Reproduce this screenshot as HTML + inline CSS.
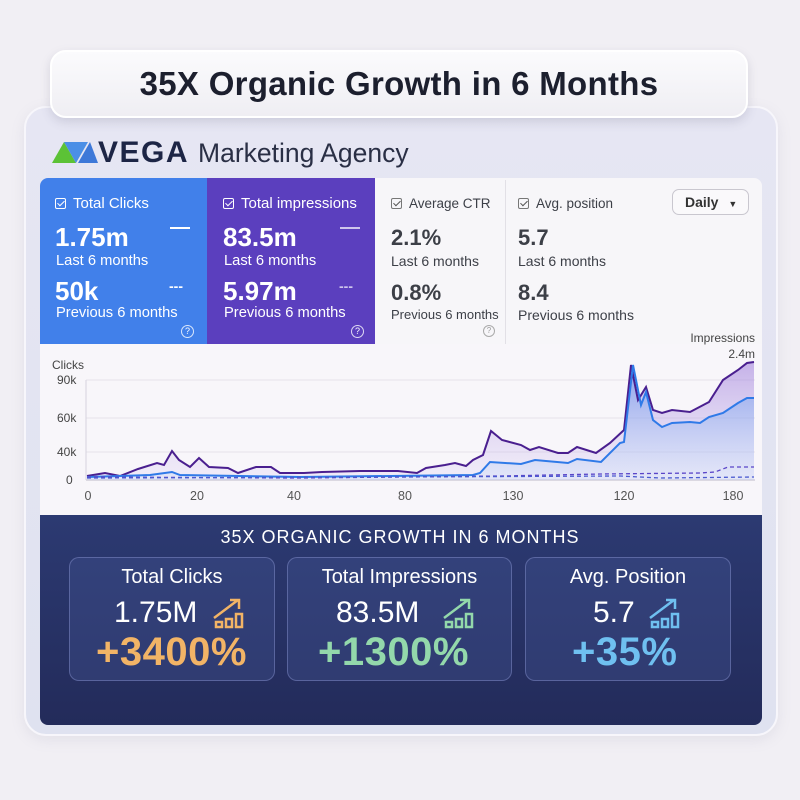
<!DOCTYPE html>
<html><head><meta charset="utf-8"><style>
*{margin:0;padding:0;box-sizing:border-box}
body{width:800px;height:800px;background:#f1eff4;font-family:"Liberation Sans",sans-serif;position:relative;overflow:hidden}
.abs{position:absolute}
.card{left:24px;top:106px;width:754px;height:630px;border-radius:22px;background:linear-gradient(180deg,#e6e6f3,#dfe2f0);border:2px solid #f7f6fb;box-shadow:0 4px 14px rgba(120,120,160,.12)}
.pill{left:50px;top:50px;width:698px;height:68px;border-radius:16px;background:linear-gradient(180deg,#fbfbfd,#efeef3);border:2px solid #fff;box-shadow:0 4px 10px rgba(100,100,130,.2);text-align:center;line-height:64px;font-size:33px;font-weight:bold;color:#1c1f2e;letter-spacing:.3px}
.t{position:absolute;white-space:nowrap}
.w{color:#fff}
.big{font-size:22px;font-weight:bold}
.wb{font-size:26px;font-weight:bold}
.sm{font-size:14px}
.ws{font-size:14.7px}
.chk{display:inline-block;width:11px;height:11px;border:1.5px solid #fff;border-radius:2px;vertical-align:-1px;margin-right:7px;position:relative}
.chk:after{content:"";position:absolute;left:2.5px;top:0px;width:3px;height:6px;border:solid currentColor;border-width:0 1.5px 1.5px 0;transform:rotate(45deg)}
.g{color:#3c3f47}
.g .chk{border-color:#777}
.box{border:1.5px solid rgba(140,150,210,.45);border-radius:10px;background:rgba(70,85,150,.35)}
.pct{font-size:40px;font-weight:bold;letter-spacing:.5px}
</style></head><body>
<div class="abs card"></div>
<div class="abs pill">35X Organic Growth in 6 Months</div>

<svg class="abs" style="left:52px;top:140px" width="46" height="24" viewBox="0 0 46 24">
<polygon points="0,23 12,2 24,23" fill="#5cc236"/>
<polygon points="12,2 36,2 24,23" fill="#4b8fe6"/>
<polygon points="26,23 38,2 46,23" fill="#3d78d8"/>
</svg>
<div class="t" style="left:98px;top:136px;font-size:30px;font-weight:bold;color:#1d2545;letter-spacing:1.5px">VEGA</div>
<div class="t" style="left:198px;top:138px;font-size:26.5px;color:#2a2f45">Marketing Agency</div>

<div class="abs" style="left:40px;top:178px;width:722px;height:166px;background:#f7f6f9;border-radius:8px 8px 0 0"></div>
<div class="abs" style="left:40px;top:178px;width:167px;height:166px;background:#4180ea;border-radius:8px 0 0 0"></div>
<div class="abs" style="left:207px;top:178px;width:168px;height:166px;background:#5b3fbe"></div>
<div class="abs" style="left:505px;top:180px;width:1px;height:164px;background:#e2e0e6"></div>

<div class="t w" style="left:55px;top:195px;font-size:15px"><span class="chk"></span>Total Clicks</div>
<div class="t w wb" style="left:55px;top:222px">1.75m</div>
<div class="t w ws" style="left:56px;top:253px">Last 6 months</div>
<div class="t w wb" style="left:55px;top:276px">50k</div>
<div class="t w ws" style="left:56px;top:305px">Previous 6 months</div>
<div class="abs" style="left:170px;top:227px;width:20px;height:2px;background:#fff"></div>
<div class="t w" style="left:169px;top:278px;font-size:14px;font-weight:bold">---</div>
<div class="abs" style="left:181px;top:325px;width:13px;height:13px;border:1.3px solid rgba(255,255,255,.8);border-radius:50%;font-size:9px;color:#fff;text-align:center;line-height:11px">?</div>

<div class="t w" style="left:223px;top:195px;font-size:15px"><span class="chk"></span>Total impressions</div>
<div class="t w wb" style="left:223px;top:222px">83.5m</div>
<div class="t w ws" style="left:224px;top:253px">Last 6 months</div>
<div class="t w wb" style="left:223px;top:276px">5.97m</div>
<div class="t w ws" style="left:224px;top:305px">Previous 6 months</div>
<div class="abs" style="left:340px;top:227px;width:20px;height:2px;background:rgba(255,255,255,.7)"></div>
<div class="t" style="left:339px;top:278px;font-size:14px;font-weight:bold;color:rgba(255,255,255,.7)">---</div>
<div class="abs" style="left:351px;top:325px;width:13px;height:13px;border:1.3px solid rgba(255,255,255,.8);border-radius:50%;font-size:9px;color:#fff;text-align:center;line-height:11px">?</div>

<div class="t g" style="left:391px;top:196px;font-size:13.5px"><span class="chk" style="color:#555"></span>Average CTR</div>
<div class="t g big" style="left:391px;top:225px">2.1%</div>
<div class="t g sm" style="left:391px;top:253px">Last 6 months</div>
<div class="t g big" style="left:391px;top:280px">0.8%</div>
<div class="t g" style="left:391px;top:307px;font-size:13px">Previous 6 months</div>
<div class="abs" style="left:483px;top:325px;width:12px;height:12px;border:1px solid #aaa;border-radius:50%;font-size:8px;color:#999;text-align:center;line-height:10px">?</div>

<div class="t g" style="left:518px;top:196px;font-size:13.5px"><span class="chk" style="color:#555"></span>Avg. position</div>
<div class="t g big" style="left:518px;top:225px">5.7</div>
<div class="t g sm" style="left:518px;top:253px">Last 6 months</div>
<div class="t g big" style="left:518px;top:280px">8.4</div>
<div class="t g sm" style="left:518px;top:307px">Previous 6 months</div>
<div class="abs" style="left:672px;top:189px;width:77px;height:26px;border:1px solid #c9c7cf;border-radius:7px;background:#faf9fb;font-size:14px;font-weight:bold;color:#333;line-height:24px;padding-left:12px">Daily <span style="font-size:9px;margin-left:6px">▼</span></div>

<div class="abs" style="left:40px;top:344px;width:722px;height:171px;background:#f8f6fa"></div>
<svg class="abs" style="left:0;top:0" width="800" height="800">
<defs>
<linearGradient id="gp" x1="0" y1="0" x2="0" y2="1"><stop offset="0" stop-color="#9b79d9" stop-opacity=".55"/><stop offset="1" stop-color="#c7b6ee" stop-opacity=".15"/></linearGradient>
<linearGradient id="gb" x1="0" y1="0" x2="0" y2="1"><stop offset="0" stop-color="#5a92ee" stop-opacity=".55"/><stop offset="1" stop-color="#bcd3f7" stop-opacity=".25"/></linearGradient>
</defs>
<g stroke="#e6e3ea" stroke-width="1"><line x1="86" y1="380" x2="755" y2="380"/><line x1="86" y1="418" x2="755" y2="418"/><line x1="86" y1="452" x2="755" y2="452"/></g>
<line x1="86" y1="480" x2="755" y2="480" stroke="#c9c6d2" stroke-width="1.2"/>
<line x1="86" y1="380" x2="86" y2="480" stroke="#d6d3de"/>
<path d="M87,476 105,473 120,476 138,469 157,463 164,465 172,451 179,460 190,467 199,458 209,467 228,468 238,473 256,467 271,467 280,473 304,473 322,472 360,471 398,471 417,473 426,468 445,465 455,463 466,466 473,460 483,455 491,431 502,440 521,445 530,450 539,447 558,453 568,453 577,447 596,453 610,443 624,430 631,365 638,400 646,387 653,410 662,413 672,410 690,412 709,402 723,380 738,370 747,363 754,362 754,480 87,480Z" fill="url(#gp)"/>
<path d="M87,477 150,475 172,472 180,475 300,477 473,475 480,473 490,462 521,464 535,460 568,463 577,459 601,462 620,443 624,442 633,365 641,405 646,392 653,420 662,427 672,423 690,422 700,423 709,417 723,413 738,403 747,398 754,398 754,480 87,480Z" fill="url(#gb)"/>
<path d="M87,476 105,473 120,476 138,469 157,463 164,465 172,451 179,460 190,467 199,458 209,467 228,468 238,473 256,467 271,467 280,473 304,473 322,472 360,471 398,471 417,473 426,468 445,465 455,463 466,466 473,460 483,455 491,431 502,440 521,445 530,450 539,447 558,453 568,453 577,447 596,453 610,443 624,430 631,365 638,400 646,387 653,410 662,413 672,410 690,412 709,402 723,380 738,370 747,363 754,362" fill="none" stroke="#4a1f8f" stroke-width="2"/>
<path d="M87,477 150,475 172,472 180,475 300,477 473,475 480,473 490,462 521,464 535,460 568,463 577,459 601,462 620,443 624,442 633,365 641,405 646,392 653,420 662,427 672,423 690,422 700,423 709,417 723,413 738,403 747,398 754,398" fill="none" stroke="#2f7ae8" stroke-width="2"/>
<path d="M87,477 300,478 500,476 600,474 700,473 715,472 728,467 754,467" fill="none" stroke="#5a45c8" stroke-width="1.3" stroke-dasharray="4,3"/>
<path d="M87,478 400,477 620,476 640,477 660,478 754,477" fill="none" stroke="#4a5ad0" stroke-width="1.3" stroke-dasharray="4,3"/>
<g font-family="Liberation Sans" font-size="12" fill="#444">
<text x="52" y="369">Clicks</text>
<text x="57" y="384">90k</text><text x="57" y="422">60k</text><text x="57" y="456">40k</text><text x="66" y="484">0</text>
<text x="755" y="342" text-anchor="end">Impressions</text><text x="755" y="358" text-anchor="end">2.4m</text>
<g text-anchor="middle" font-size="12.5" fill="#555"><text x="88" y="500">0</text><text x="197" y="500">20</text><text x="294" y="500">40</text><text x="405" y="500">80</text><text x="513" y="500">130</text><text x="624" y="500">120</text><text x="733" y="500">180</text></g>
</g>
</svg>

<div class="abs" style="left:40px;top:515px;width:722px;height:210px;background:linear-gradient(180deg,#2c3a72,#232b5a);border-radius:0 0 8px 8px"></div>
<div class="t w" style="left:0;width:800px;text-align:center;top:527px;font-size:18px;letter-spacing:1px">35X ORGANIC GROWTH IN 6 MONTHS</div>
<div class="abs box" style="left:69px;top:557px;width:206px;height:124px"></div>
<div class="abs box" style="left:287px;top:557px;width:225px;height:124px"></div>
<div class="abs box" style="left:525px;top:557px;width:206px;height:124px"></div>

<div class="t w" style="left:69px;width:206px;text-align:center;top:566px;font-size:20px">Total Clicks</div>
<div class="t w" style="left:114px;top:596px;font-size:30px">1.75M</div>
<div class="t pct" style="left:96px;top:630px;color:#f2b466">+3400%</div>
<div class="t w" style="left:287px;width:225px;text-align:center;top:566px;font-size:20px">Total Impressions</div>
<div class="t w" style="left:336px;top:596px;font-size:30px">83.5M</div>
<div class="t pct" style="left:318px;top:630px;color:#93d8ab">+1300%</div>
<div class="t w" style="left:525px;width:206px;text-align:center;top:566px;font-size:20px">Avg. Position</div>
<div class="t w" style="left:593px;top:596px;font-size:30px">5.7</div>
<div class="t pct" style="left:572px;top:630px;color:#6fc0f0">+35%</div>

<svg class="abs" style="left:0;top:0" width="800" height="800">
<g fill="none" stroke-width="2.5">
<g stroke="#f2b466"><path d="M214,618 L238,600 M230,600 L239,600 L239,609"/><rect x="216" y="622" width="6" height="5"/><rect x="226" y="619" width="6" height="8"/><rect x="236" y="614" width="6" height="13"/></g>
<g stroke="#93d8ab"><path d="M444,618 L468,600 M460,600 L469,600 L469,609"/><rect x="446" y="622" width="6" height="5"/><rect x="456" y="619" width="6" height="8"/><rect x="466" y="614" width="6" height="13"/></g>
<g stroke="#6fc0f0"><path d="M650,618 L674,600 M666,600 L675,600 L675,609"/><rect x="652" y="622" width="6" height="5"/><rect x="662" y="619" width="6" height="8"/><rect x="672" y="614" width="6" height="13"/></g>
</g>
</svg>
</body></html>
